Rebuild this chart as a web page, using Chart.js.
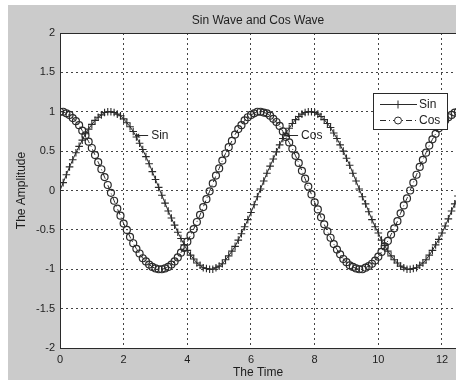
<!DOCTYPE html>
<html><head><meta charset="utf-8">
<script src="https://cdn.jsdelivr.net/npm/chart.js@4/dist/chart.umd.min.js"></script>
<style>html,body{margin:0;padding:0;background:#fff;overflow:hidden}canvas{display:block}</style>
</head><body>
<canvas id="c" width="456" height="380"></canvas>
<script>
const chartTitle = 'Sin Wave and Cos Wave';
const xTitle = 'The Time';
const yTitle = 'The Amplitude';
const seriesNames = ['Sin', 'Cos'];
const time = [0,0.1,0.2,0.3,0.4,0.5,0.6,0.7,0.8,0.9,1,1.1,1.2,1.3,1.4,1.5,1.6,1.7,1.8,1.9,2,2.1,2.2,2.3,2.4,2.5,2.6,2.7,2.8,2.9,3,3.1,3.2,3.3,3.4,3.5,3.6,3.7,3.8,3.9,4,4.1,4.2,4.3,4.4,4.5,4.6,4.7,4.8,4.9,5,5.1,5.2,5.3,5.4,5.5,5.6,5.7,5.8,5.9,6,6.1,6.2,6.3,6.4,6.5,6.6,6.7,6.8,6.9,7,7.1,7.2,7.3,7.4,7.5,7.6,7.7,7.8,7.9,8,8.1,8.2,8.3,8.4,8.5,8.6,8.7,8.8,8.9,9,9.1,9.2,9.3,9.4,9.5,9.6,9.7,9.8,9.9,10,10.1,10.2,10.3,10.4,10.5,10.6,10.7,10.8,10.9,11,11.1,11.2,11.3,11.4,11.5,11.6,11.7,11.8,11.9,12,12.1,12.2,12.3,12.4,12.5];
const sinValues = [0.00,0.10,0.20,0.30,0.39,0.48,0.56,0.64,0.72,0.78,
0.84,0.89,0.93,0.96,0.99,1.00,1.00,0.99,0.97,0.95,
0.91,0.86,0.81,0.75,0.68,0.60,0.52,0.43,0.34,0.24,
0.14,0.04,-0.06,-0.16,-0.26,-0.35,-0.44,-0.53,-0.61,-0.69,
-0.76,-0.82,-0.87,-0.92,-0.95,-0.98,-0.99,-1.00,-1.00,-0.98,
-0.96,-0.93,-0.88,-0.83,-0.77,-0.71,-0.63,-0.55,-0.46,-0.37,
-0.28,-0.18,-0.08,0.02,0.12,0.22,0.31,0.40,0.49,0.58,
0.66,0.73,0.79,0.85,0.90,0.94,0.97,0.99,1.00,1.00,
0.99,0.97,0.94,0.90,0.85,0.80,0.73,0.66,0.58,0.50,
0.41,0.32,0.22,0.12,0.02,-0.08,-0.17,-0.27,-0.37,-0.46,
-0.54,-0.63,-0.70,-0.77,-0.83,-0.88,-0.92,-0.96,-0.98,-1.00,
-1.00,-0.99,-0.98,-0.95,-0.92,-0.88,-0.82,-0.76,-0.69,-0.62,
-0.54,-0.45,-0.36,-0.26,-0.17,-0.07];
const cosValues = [1.00,1.00,0.98,0.96,0.92,0.88,0.83,0.76,0.70,0.62,
0.54,0.45,0.36,0.27,0.17,0.07,-0.03,-0.13,-0.23,-0.32,
-0.42,-0.50,-0.59,-0.67,-0.74,-0.80,-0.86,-0.90,-0.94,-0.97,
-0.99,-1.00,-1.00,-0.99,-0.97,-0.94,-0.90,-0.85,-0.79,-0.73,
-0.65,-0.57,-0.49,-0.40,-0.31,-0.21,-0.11,-0.01,0.09,0.19,
0.28,0.38,0.47,0.55,0.63,0.71,0.78,0.83,0.89,0.93,
0.96,0.98,1.00,1.00,0.99,0.98,0.95,0.91,0.87,0.82,
0.75,0.68,0.61,0.53,0.44,0.35,0.25,0.15,0.05,-0.05,
-0.15,-0.24,-0.34,-0.43,-0.52,-0.60,-0.68,-0.75,-0.81,-0.87,
-0.91,-0.95,-0.97,-0.99,-1.00,-1.00,-0.98,-0.96,-0.93,-0.89,
-0.84,-0.78,-0.71,-0.64,-0.56,-0.48,-0.39,-0.29,-0.19,-0.10,
0.00,0.10,0.20,0.30,0.39,0.48,0.57,0.65,0.72,0.79,
0.84,0.89,0.93,0.96,0.99,1.00];
const xRange = [0, 12.44];
const yRange = [-2, 2];
const xTickStep = 2;
const yTickStep = 0.5;
const annoLabels = ['Sin', 'Cos'];
const annoX = [2.36, 7.07];
const annoY = [0.70, 0.70];

const FONT = "'Liberation Sans', Arial, Helvetica, sans-serif";
const INK = '#1e1e1e';
const LINE = '#2a2a2a';

const toPts = (ys) => time.map((t, i) => ({x: t, y: ys[i]}));

const decor = {
  id: 'decor',
  beforeDraw(chart) {
    const {ctx, chartArea: a} = chart;
    ctx.save();
    ctx.fillStyle = '#fff';
    ctx.fillRect(0, 0, chart.width, chart.height);
    ctx.fillStyle = '#cbcbcb';
    ctx.fillRect(8, 5, chart.width - 8, chart.height - 5);
    ctx.fillStyle = '#fff';
    ctx.fillRect(a.left, a.top, chart.width - a.left, a.bottom - a.top);
    ctx.restore();
  },
  afterDraw(chart) {
    const {ctx, chartArea: a, scales} = chart;
    ctx.save();
    // top frame line
    ctx.strokeStyle = LINE;
    ctx.lineWidth = 1;
    ctx.beginPath();
    ctx.moveTo(a.left, Math.round(a.top) + 0.5);
    ctx.lineTo(chart.width, Math.round(a.top) + 0.5);
    ctx.stroke();
    // annotations (arrow + text)
    ctx.font = '12px ' + FONT;
    ctx.textBaseline = 'middle';
    ctx.textAlign = 'left';
    for (let i = 0; i < annoLabels.length; i++) {
      const px = scales.x.getPixelForValue(annoX[i]);
      const py = Math.round(scales.y.getPixelForValue(annoY[i])) + 0.5;
      ctx.strokeStyle = LINE;
      ctx.fillStyle = LINE;
      ctx.beginPath();
      ctx.moveTo(px, py);
      ctx.lineTo(px + 13, py);
      ctx.stroke();
      ctx.beginPath();
      ctx.moveTo(px, py);
      ctx.lineTo(px + 4, py - 2);
      ctx.lineTo(px + 4, py + 2);
      ctx.closePath();
      ctx.fill();
      ctx.fillStyle = INK;
      ctx.fillText(annoLabels[i], px + 16, py);
    }
    // legend box
    const bx = a.right - 83, by = a.top + 60, bw = 74, bh = 36;
    ctx.fillStyle = '#fff';
    ctx.fillRect(bx, by, bw, bh);
    ctx.strokeStyle = LINE;
    ctx.strokeRect(bx + 0.5, by + 0.5, bw, bh);
    const ds = chart.data.datasets;
    for (let i = 0; i < ds.length; i++) {
      const ly = by + 11.5 + i * 16;
      ctx.strokeStyle = ds[i].borderColor;
      ctx.lineWidth = 1;
      ctx.setLineDash(ds[i].borderDash || []);
      ctx.beginPath();
      ctx.moveTo(bx + 7, ly);
      ctx.lineTo(bx + 44, ly);
      ctx.stroke();
      ctx.setLineDash([]);
      const mx = bx + 25;
      if (ds[i].pointStyle === 'cross') {
        ctx.beginPath();
        ctx.moveTo(mx, ly - 4); ctx.lineTo(mx, ly + 4);
        ctx.moveTo(mx - 4, ly); ctx.lineTo(mx + 4, ly);
        ctx.stroke();
      } else {
        ctx.fillStyle = '#fff';
        ctx.beginPath();
        ctx.arc(mx, ly, 3.5, 0, Math.PI * 2);
        ctx.fill();
        ctx.stroke();
      }
      ctx.fillStyle = INK;
      ctx.fillText(ds[i].label, bx + 46, ly);
    }
    ctx.restore();
  }
};

new Chart(document.getElementById('c'), {
  type: 'line',
  data: {
    datasets: [
      {
        label: seriesNames[0],
        data: toPts(sinValues),
        borderColor: LINE,
        borderWidth: 1,
        pointStyle: 'cross',
        pointRadius: 3.8,
        pointBorderWidth: 1.1,
        pointBorderColor: '#2a2a2a',
        pointBackgroundColor: 'rgba(0,0,0,0)',
        tension: 0,
        fill: false
      },
      {
        label: seriesNames[1],
        data: toPts(cosValues),
        borderColor: LINE,
        borderWidth: 1,
        borderDash: [6, 3, 1, 3],
        pointStyle: 'circle',
        pointRadius: 3.5,
        pointBorderWidth: 1.2,
        pointBorderColor: '#2a2a2a',
        pointBackgroundColor: 'rgba(0,0,0,0)',
        tension: 0,
        fill: false
      }
    ]
  },
  options: {
    responsive: false,
    animation: false,
    devicePixelRatio: 1,
    layout: {padding: 0, autoPadding: false},
    plugins: {
      legend: {display: false},
      tooltip: {enabled: false},
      title: {
        display: true,
        fullSize: false,
        text: chartTitle,
        color: INK,
        font: {family: FONT, size: 12, weight: 'normal'},
        padding: {top: 13.6, bottom: 5}
      }
    },
    scales: {
      x: {
        type: 'linear',
        min: xRange[0],
        max: xRange[1],
        afterFit(s) { s.height = 32; s.paddingRight = 0; s.paddingLeft = 0; },
        ticks: {stepSize: xTickStep, includeBounds: false, padding: 5, color: INK,
                font: {family: FONT, size: 11}, maxRotation: 0},
        grid: {color: '#444', lineWidth: 1, drawTicks: false},
        border: {display: true, color: LINE, width: 1, dash: [2, 3]},
        title: {display: true, text: xTitle, color: INK,
                font: {family: FONT, size: 12}, padding: {top: 0, bottom: 0}}
      },
      y: {
        type: 'linear',
        min: yRange[0],
        max: yRange[1],
        afterFit(s) { s.width = 60; s.paddingTop = 0; s.paddingBottom = 0; },
        ticks: {stepSize: yTickStep, padding: 5, color: INK,
                font: {family: FONT, size: 11},
                callback: (v) => String(v)},
        grid: {color: '#444', lineWidth: 1, drawTicks: false},
        border: {display: true, color: LINE, width: 1, dash: [2, 3]},
        title: {display: true, text: yTitle, color: INK,
                font: {family: FONT, size: 12}, padding: {top: 14.8, bottom: 0}}
      }
    }
  },
  plugins: [decor]
});
</script>
</body></html>
